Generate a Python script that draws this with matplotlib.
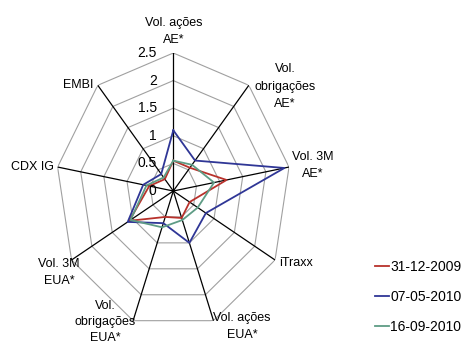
import numpy as np
import matplotlib
matplotlib.use("Agg")
import matplotlib.pyplot as plt

plt.rcParams['font.family'] = ['Liberation Sans', 'DejaVu Sans']

categories = ['Vol. ações\nAE*', 'Vol.\nobrigações\nAE*', 'Vol. 3M\nAE*', 'iTraxx',
              'Vol. ações\nEUA*', 'Vol.\nobrigações\nEUA*', 'Vol. 3M\nEUA*',
              'CDX IG', 'EMBI']
dates = ['31-12-2009', '07-05-2010', '16-09-2010']
vals_2009_12 = [0.55, 0.55, 1.15, 0.40, 0.52, 0.50, 1.08, 0.52, 0.28]
vals_2010_05 = [1.10, 0.72, 2.40, 0.80, 1.00, 0.62, 1.12, 0.65, 0.40]
vals_2010_09 = [0.55, 0.62, 0.88, 0.60, 0.56, 0.70, 1.05, 0.58, 0.32]
rings = [0.5, 1.0, 1.5, 2.0, 2.5]
ring_labels = ['0', '0.5', '1', '1.5', '2', '2.5']
colors = ['#B8312B', '#2F3696', '#5E9C85']

n = len(categories)
theta = np.arange(n) * 2 * np.pi / n
theta_closed = np.append(theta, theta[0])

fig = plt.figure(figsize=(4.64, 3.47), dpi=100)
ax = fig.add_axes([55.8 / 464, 18 / 347, 235 / 464, 276 / 347], projection='polar')
ax.set_aspect('auto')
ax.set_theta_zero_location('N')
ax.set_theta_direction(-1)
ax.set_ylim(0, 2.5)
ax.grid(False)
ax.set_xticks([])
ax.set_yticks([])
ax.spines['polar'].set_visible(False)
ax.patch.set_visible(False)

# polygon grid and spokes
for r in rings:
    ax.plot(theta_closed, [r] * (n + 1), color='#a0a0a0', lw=0.8, zorder=1)
for t in theta:
    ax.plot([t, t], [0, 2.5], color='black', lw=0.9, zorder=2)

# series
series = [vals_2009_12, vals_2010_05, vals_2010_09]
handles = []
for vals, c, lab in zip(series, colors, dates):
    h, = ax.plot(theta_closed, vals + vals[:1], color=c, lw=1.3, label=lab, zorder=3)
    handles.append(h)

# radial tick labels along the top spoke
for r, lab in zip([0] + rings, ring_labels):
    ax.annotate(lab, xy=(0, r), xytext=(-12, 0), textcoords='offset points',
                ha='right', va='center', fontsize=10, annotation_clip=False)

# category labels
offsets = [(0, 5, 'center', 'bottom', 1.6), (26, -1, 'center', 'center', 1.6),
           (2, 1, 'left', 'center', 1.6), (3, -2, 'left', 'center', 1.6),
           (0, -4, 'left', 'center', 1.6), (-20, -1, 'center', 'center', 1.45),
           (-9, -9, 'center', 'center', 1.6), (-3, 0, 'right', 'center', 1.6),
           (-3, 0, 'right', 'center', 1.6)]
for t, lab, (dx, dy, ha, va, ls) in zip(theta, categories, offsets):
    ax.annotate(lab, xy=(t, 2.5), xytext=(dx, dy), textcoords='offset points',
                ha=ha, va=va, fontsize=9, multialignment='center',
                linespacing=ls, annotation_clip=False)

fig.legend(handles=handles, loc='upper left', bbox_to_anchor=(375 / 464, 1 - 260 / 347),
           frameon=False, fontsize=10, handlelength=1.0, handletextpad=0.1,
           labelspacing=1.15, borderpad=0, borderaxespad=0)

fig.savefig('out.png', dpi=100)
